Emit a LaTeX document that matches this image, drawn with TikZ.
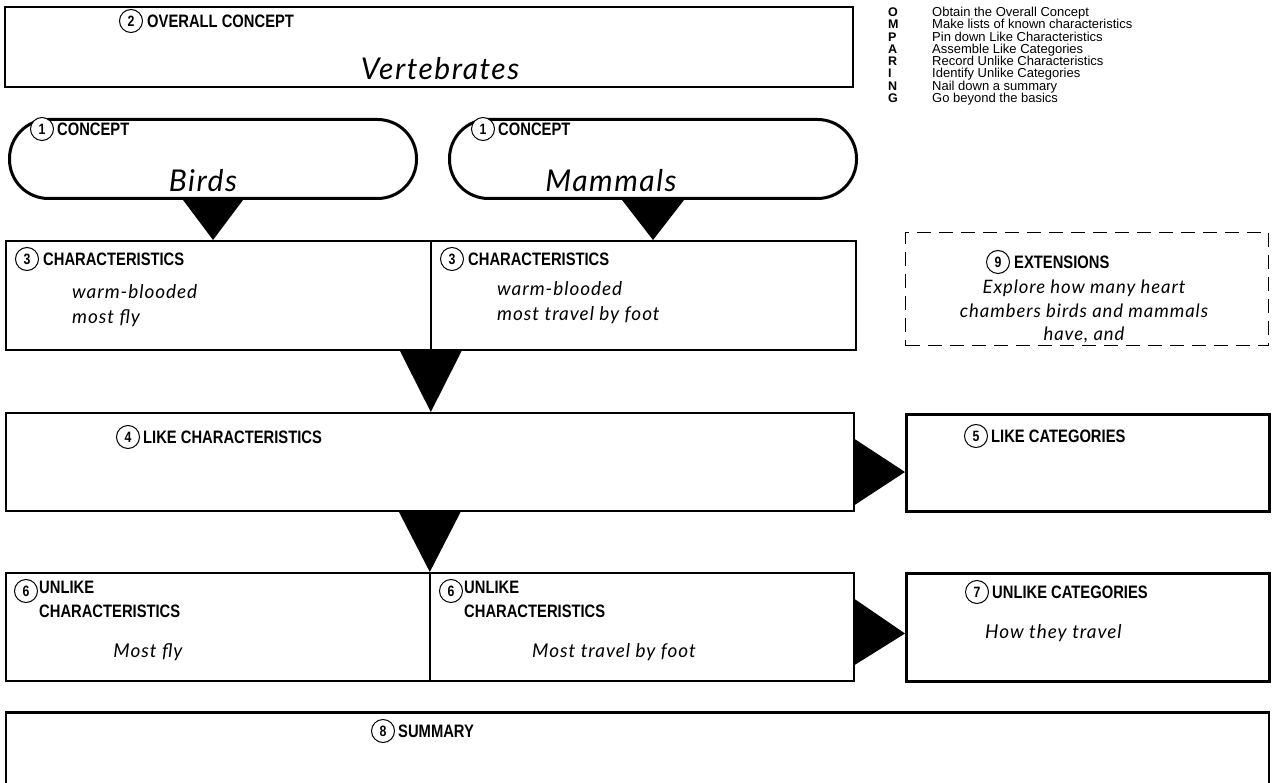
\documentclass[tikz,border=0pt]{standalone}
\usepackage{fontspec}
\setmainfont{Liberation Sans}
\newfontfamily\hd{Liberation Sans}[FakeStretch=0.82]
\newfontfamily\hand{Lato}[LetterSpace=5]
\usetikzlibrary{calc,positioning}
\begin{document}
\begin{tikzpicture}[x=1pt,y=-1pt,
  box/.style={draw, line width=1.6pt, rectangle, inner sep=0pt, anchor=north west},
  thickbox/.style={box, line width=3pt},
  oval/.style={draw, line width=3pt, rectangle, rounded corners=39pt, inner sep=0pt, anchor=north west},
  dbox/.style={draw, line width=1.3pt, dash pattern=on 14pt off 8pt, rectangle, inner sep=0pt, anchor=north west},
  circ/.style={circle, draw, line width=1pt, minimum size=23pt, inner sep=0pt, font=\hd\bfseries\fontsize{15}{15}\selectfont},
  hdr/.style={anchor=west, inner sep=0pt, font=\hd\bfseries\fontsize{18}{19}\selectfont},
  hdr2/.style={anchor=north west, inner sep=0pt, align=left, font=\hd\bfseries\fontsize{18}{24}\selectfont},
  hw/.style={inner sep=0pt, font=\hand\itshape\fontsize{19}{24}\selectfont},
  hwbig/.style={inner sep=0pt, font=\hand\itshape\fontsize{30}{32}\selectfont},
  tri/.style={fill=black},
  legl/.style={anchor=base west, inner sep=0pt, font=\bfseries\fontsize{12.5}{12}\selectfont},
  legt/.style={anchor=base west, inner sep=0pt, font=\fontsize{13}{12}\selectfont}
]
\useasboundingbox (0,0) rectangle (1274,783);

% ---------- legend ----------
\foreach \L/\T [count=\i from 0] in {O/Obtain the Overall Concept, M/Make lists of known characteristics, P/Pin down Like Characteristics, A/Assemble Like Categories, R/Record Unlike Characteristics, I/Identify Unlike Categories, N/Nail down a summary, G/Go beyond the basics}{
  \node[legl] (legL\i) at (888,{16.5+12.3*\i}) {\L};
  \node[legt] (legT\i) at (932,{16.5+12.3*\i}) {\T};
}

% ---------- overall concept ----------
\node[box, minimum width=848pt, minimum height=80pt] (overall) at (4,6) {};
\node[circ] (c2) at (131,21) {2};
\node[hdr, right=4pt of c2] (t2) {OVERALL CONCEPT};
\node[hwbig, anchor=base] (vert) at (440,80) {Vertebrates};

% ---------- concepts ----------
\node[oval, minimum width=407pt, minimum height=79pt] (conA) at (8,118) {};
\node[oval, minimum width=407pt, minimum height=79pt] (conB) at (448,118) {};
\node[circ, fill=white] (c1a) at (42,129) {1};
\node[hdr, right=3pt of c1a] (t1a) {CONCEPT};
\node[circ, fill=white] (c1b) at (483,129) {1};
\node[hdr, right=3pt of c1b] (t1b) {CONCEPT};
\node[hwbig, anchor=base] (birds) at (203,192) {Birds};
\node[hwbig, anchor=base] (mammals) at (611,192) {Mammals};

% ---------- characteristics ----------
\node[box, minimum width=850pt, minimum height=109pt] (char) at (5,240) {};
\draw[line width=1.6pt] (char.north) -- (char.south);
\node[circ] (c3a) at (27,259) {3};
\node[hdr, right=4pt of c3a] (t3a) {CHARACTERISTICS};
\node[circ] (c3b) at (452,259) {3};
\node[hdr, right=4pt of c3b] (t3b) {CHARACTERISTICS};
\node[hw, anchor=base west] (wa) at (72,299) {warm-blooded};
\node[hw, anchor=base west] (fa) at (72,324) {most fly};
\node[hw, anchor=base west] (wb) at (497,296) {warm-blooded};
\node[hw, anchor=base west] (fb) at (497,321) {most travel by foot};

\fill[tri] ($(conA.south)+(-30,0)$) -- ($(conA.south)+(30,0)$) -- (conA.south |- char.north) -- cycle;
\fill[tri] ($(conB.south)+(-31,0)$) -- ($(conB.south)+(31,0)$) -- (conB.south |- char.north) -- cycle;

% ---------- extensions ----------
\node[dbox, minimum width=363pt, minimum height=113pt] (ext) at (905,232) {};
\node[circ] (c9) at (998,262) {9};
\node[hdr, right=4pt of c9] (t9) {EXTENSIONS};
\node[hw, anchor=north, align=center, font=\hand\itshape\fontsize{18.5}{23.5}\selectfont] (extt) at (1084,280) {Explore how many heart\\chambers birds and mammals\\have, and};

% ---------- like characteristics ----------
\node[box, minimum width=848pt, minimum height=98pt] (like) at (5,412) {};
\node[circ] (c4) at (128,437) {4};
\node[hdr, right=3pt of c4] (t4) {LIKE CHARACTERISTICS};
\fill[tri] ($(char.south)+(-31,0)$) -- ($(char.south)+(31,0)$) -- (char.south |- like.north) -- cycle;

\node[thickbox, minimum width=363pt, minimum height=97pt] (likecat) at (905,413) {};
\node[circ] (c5) at (976,436) {5};
\node[hdr, right=3pt of c5] (t5) {LIKE CATEGORIES};
\fill[tri] ($(like.north east)+(0,27)$) -- ($(like.north east)+(0,93)$) -- ($(likecat.west)+(0,9)$) -- cycle;

% ---------- unlike characteristics ----------
\node[box, minimum width=848pt, minimum height=108pt] (unlike) at (5,572) {};
\draw[line width=1.6pt] (unlike.north) -- (unlike.south);
\fill[tri] ($(like.south)+(-31,0)$) -- ($(like.south)+(31,0)$) -- (like.south |- unlike.north) -- cycle;
\node[circ] (c6a) at (26,591) {6};
\node[hdr2] (t6a) at (39,581) {UNLIKE\\CHARACTERISTICS};
\node[circ] (c6b) at (451,591) {6};
\node[hdr2] (t6b) at (464,581) {UNLIKE\\CHARACTERISTICS};
\node[hw, anchor=base] (mfly) at (148,657) {Most fly};
\node[hw, anchor=base] (mfoot) at (614,657) {Most travel by foot};

\node[thickbox, minimum width=363pt, minimum height=108pt] (unlikecat) at (905,572) {};
\node[circ] (c7) at (977,592) {7};
\node[hdr, right=3pt of c7] (t7) {UNLIKE CATEGORIES};
\node[hw, anchor=base west] (how) at (985,638) {How they travel};
\fill[tri] ($(unlike.north east)+(0,27)$) -- ($(unlike.north east)+(0,93)$) -- ($(unlikecat.west)+(0,6)$) -- cycle;

% ---------- summary ----------
\node[box, minimum width=1263pt, minimum height=90pt] (sum) at (5,712) {};
\draw[line width=3pt] (sum.north west) -- (sum.north east);
\node[circ] (c8) at (383,731) {8};
\node[hdr, right=3pt of c8] (t8) {SUMMARY};
\end{tikzpicture}
\end{document}
